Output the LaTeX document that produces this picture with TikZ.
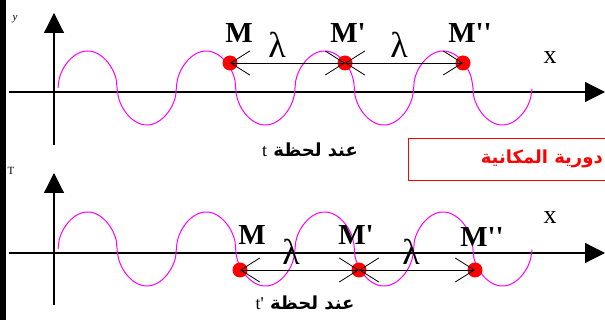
\documentclass[tikz,border=0pt]{standalone}
\usepackage{fontspec}
\setmainfont{Liberation Serif}
\newfontfamily\arabicfont[Script=Arabic]{DejaVu Sans}
\TeXXeTstate=1
\usetikzlibrary{arrows.meta}
\definecolor{wavec}{HTML}{FF00FF}
\definecolor{dotc}{HTML}{FF0000}

\begin{document}
\begin{tikzpicture}[x=1pt, y=-1pt,
  declare function={swave(\t)=(sin(\t)>0 ? 1 : -1)*sqrt(abs(sin(\t)));},
  ax/.style={line width=1.2pt, -{Triangle[length=20pt,width=20pt]}},
  wv/.style={wavec, line width=1pt},
  pt/.style={circle, fill=dotc, minimum size=15pt, inner sep=0pt},
  ar/.style={line width=0.8pt,
    {Straight Barb[length=19pt,width=24pt]}-{Straight Barb[length=19pt,width=24pt]}},
  lb/.style={font=\fontsize{29}{29}\selectfont\bfseries, inner sep=0pt},
  lam/.style={font=\fontsize{36}{36}\selectfont, inner sep=0pt},
  xl/.style={font=\fontsize{26}{26}\selectfont, inner sep=0pt},
  al/.style={font=\arabicfont\bfseries\fontsize{18}{18}\selectfont, inner sep=0pt},
  redbox/.style={draw=dotc, line width=1pt, anchor=north west, inner sep=0pt}]
\useasboundingbox (0,0) rectangle (605,320);
\clip (0,0) rectangle (605,320);
\fill[white] (0,0) rectangle (605,320);
\fill[black] (0,0) rectangle (6,320);
\node[font=\fontsize{11}{11}\selectfont\itshape, inner sep=0pt] (ya) at (15,19) {y};
\node[font=\fontsize{11}{11}\selectfont, inner sep=0pt] (yb) at (11,171) {T};
% upper panel, instant t
\draw[ax] (54,145) -- (54,13);
\draw[ax] (9,92) -- (605,92);
\draw[wv] plot[domain=58:532, samples=400] (\x, {88-37*swave((\x-58)/118.5*360)});
\node[pt] (a1) at (230,63) {};
\node[pt] (a2) at (345,63) {};
\node[pt] (a3) at (463,63) {};
\draw[ar] (a1.center) -- (a2.center);
\draw[ar] (a2.center) -- (a3.center);
\node[lb] (ma1) at (239,33) {M};
\node[lb] (ma2) at (348,33) {M\textquotesingle};
\node[lb] (ma3) at (470,33) {M\textquotesingle\textquotesingle};
\node[lam] (la1) at (277,45) {λ};
\node[lam] (la2) at (399,45) {λ};
\node[xl] (xa) at (550,58) {x};
\node[al] (ta) at (310,150) {\beginR عند لحظة \beginL{\rmfamily\mdseries t}\endL\endR};
% box
\node[redbox, minimum width=215pt, minimum height=42pt] (box) at (408,138) {};
\node[font=\arabicfont\bfseries\fontsize{18}{18}\selectfont, text=dotc, anchor=east, inner sep=0pt]
  (boxt) at (603,159) {\beginR دورية المكانية\endR};
% lower panel, instant t'
\draw[ax] (54,305) -- (54,173);
\draw[ax] (9,253) -- (605,253);
\draw[wv] plot[domain=58:532, samples=400] (\x, {249-37*swave((\x-58)/118.5*360)});
\node[pt] (b1) at (240,270) {};
\node[pt] (b2) at (359,270) {};
\node[pt] (b3) at (475,270) {};
\draw[ar] (b1.center) -- (b2.center);
\draw[ar] (b2.center) -- (b3.center);
\node[lb] (mb1) at (252,235) {M};
\node[lb] (mb2) at (356,235) {M\textquotesingle};
\node[lb] (mb3) at (482,237) {M\textquotesingle\textquotesingle};
\node[lam] (lb1) at (291,252) {λ};
\node[lam] (lb2) at (411,252) {λ};
\node[xl] (xb) at (550,218) {x};
\node[al] (tb) at (305,303) {\beginR عند لحظة \beginL{\rmfamily\mdseries t\textquotesingle}\endL\endR};
\end{tikzpicture}
\end{document}
